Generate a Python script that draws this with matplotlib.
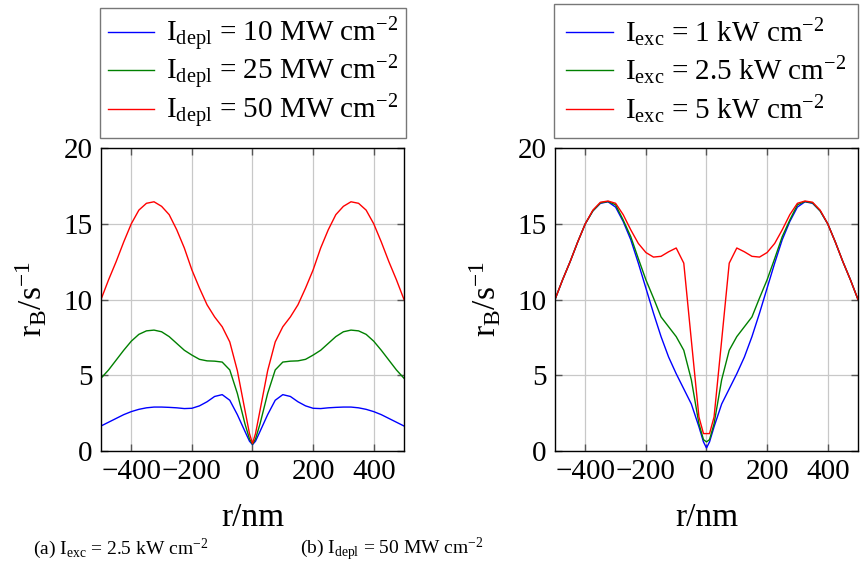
import matplotlib
matplotlib.use('Agg')
import matplotlib.pyplot as plt

plt.rcParams['font.family'] = ['Liberation Serif', 'DejaVu Serif']
plt.rcParams['mathtext.fontset'] = 'custom'
plt.rcParams['mathtext.rm'] = 'Liberation Serif'
plt.rcParams['mathtext.it'] = 'Liberation Serif:italic'

# radial coordinate (nm)
r = [-500, -475, -450, -425, -400, -375, -350, -325, -300, -275, -250, -225, -200, -175, -150, -125, -100, -75,
     -50, -25, -10, 0, 10, 25, 50, 75, 100, 125, 150, 175, 200, 225, 250, 275, 300, 325, 350, 375, 400, 425,
     450, 475, 500]

# (a) I_exc = 2.5 kW/cm^2, varying I_depl
a_10 = [1.65, 1.9, 2.15, 2.4, 2.6, 2.75, 2.85, 2.9, 2.9, 2.88, 2.85, 2.8, 2.82, 2.98, 3.25, 3.6, 3.72, 3.35,
        2.4, 1.3, 0.65, 0.42, 0.65, 1.3, 2.4, 3.35, 3.72, 3.6, 3.25, 2.98, 2.82, 2.8, 2.85, 2.88, 2.9, 2.9,
        2.85, 2.75, 2.6, 2.4, 2.15, 1.9, 1.65]
a_25 = [4.8, 5.35, 6.0, 6.65, 7.25, 7.7, 7.93, 7.98, 7.87, 7.55, 7.1, 6.65, 6.33, 6.05, 5.95, 5.93, 5.87, 5.35,
        3.8, 1.8, 0.8, 0.45, 0.8, 1.8, 3.8, 5.35, 5.87, 5.93, 5.95, 6.05, 6.33, 6.65, 7.1, 7.55, 7.87, 7.98,
        7.93, 7.7, 7.25, 6.65, 6.0, 5.35, 4.8]
a_50 = [10.0, 11.3, 12.5, 13.8, 15.0, 15.9, 16.35, 16.45, 16.15, 15.6, 14.6, 13.4, 11.95, 10.75, 9.65, 8.85,
        8.2, 7.2, 5.3, 2.7, 1.15, 0.5, 1.15, 2.7, 5.3, 7.2, 8.2, 8.85, 9.65, 10.75, 11.95, 13.4, 14.6, 15.6,
        16.15, 16.45, 16.35, 15.9, 15.0, 13.8, 12.5, 11.3, 10.0]

# (b) I_depl = 50 MW/cm^2, varying I_exc
b_1 = [10.0, 11.3, 12.5, 13.8, 15.0, 15.85, 16.35, 16.45, 16.1, 15.15, 13.95, 12.4, 10.75, 9.1, 7.55, 6.2,
       5.1, 4.1, 3.1, 1.6, 0.6, 0.2, 0.6, 1.6, 3.1, 4.1, 5.1, 6.2, 7.55, 9.1, 10.75, 12.4, 13.95, 15.15, 16.1,
       16.45, 16.35, 15.85, 15.0, 13.8, 12.5, 11.3, 10.0]
b_25 = [10.0, 11.3, 12.5, 13.8, 15.0, 15.85, 16.38, 16.47, 16.25, 15.25, 14.15, 12.7, 11.3, 10.1, 8.85, 8.2,
        7.55, 6.65, 4.7, 1.8, 0.75, 0.6, 0.75, 1.8, 4.7, 6.65, 7.55, 8.2, 8.85, 10.1, 11.3, 12.7, 14.15, 15.25,
        16.25, 16.47, 16.38, 15.85, 15.0, 13.8, 12.5, 11.3, 10.0]
b_5 = [10.0, 11.3, 12.5, 13.8, 15.0, 15.9, 16.42, 16.5, 16.35, 15.6, 14.6, 13.7, 13.1, 12.8, 12.85, 13.15,
       13.4, 12.4, 7.3, 2.25, 1.15, 1.15, 1.15, 2.25, 7.3, 12.4, 13.4, 13.15, 12.85, 12.8, 13.1, 13.7, 14.6,
       15.6, 16.35, 16.5, 16.42, 15.9, 15.0, 13.8, 12.5, 11.3, 10.0]

labels_a = [r'$\mathrm{I_{depl}}$ = 10 MW cm$^{-2}$', r'$\mathrm{I_{depl}}$ = 25 MW cm$^{-2}$',
            r'$\mathrm{I_{depl}}$ = 50 MW cm$^{-2}$']
labels_b = [r'$\mathrm{I_{exc}}$ = 1 kW cm$^{-2}$', r'$\mathrm{I_{exc}}$ = 2.5 kW cm$^{-2}$',
            r'$\mathrm{I_{exc}}$ = 5 kW cm$^{-2}$']
colors = ['blue', '#008000', 'red']

fig = plt.figure(figsize=(8.62, 5.8), dpi=100)
ax1 = fig.add_axes([101 / 862, 1 - 451 / 580, 303 / 862, 303 / 580])
ax2 = fig.add_axes([555 / 862, 1 - 451 / 580, 303 / 862, 303 / 580])

for ax, series, labels, cx, lsp, bpad in [(ax1, [a_10, a_25, a_50], labels_a, 253, 0.0, 0.25),
                                          (ax2, [b_1, b_25, b_5], labels_b, 706, 0.2, 0.42)]:
    for ys, lab, c in zip(series, labels, colors):
        ax.plot(r, ys, color=c, lw=1.0, label=lab)
    ax.set_xlim(-500, 500)
    ax.set_ylim(0, 20)
    ax.set_xticks([-400, -200, 0, 200, 400])
    ax.set_yticks([0, 5, 10, 15, 20])
    ax.set_xticklabels(['\u2212400', '\u2212200', '0', '200', '400'])
    ax.grid(True, color='#c8c8c8', lw=0.9)
    ax.set_axisbelow(True)
    ax.tick_params(direction='in', top=True, right=True, length=5, width=1, color='#555555',
                   labelsize=21, pad=6)
    for sp in ax.spines.values():
        sp.set_linewidth(1.0)
    ax.set_xlabel('r/nm', fontsize=24, labelpad=12)
    ax.set_ylabel(r'$\mathrm{r_B/s^{-1}}$', fontsize=24, labelpad=10)
    leg = fig.legend(handles=ax.get_lines(), loc='lower center', bbox_to_anchor=(cx / 862, 1 - 138 / 580),
                     fontsize=21, frameon=True, fancybox=False, edgecolor='#555555', borderaxespad=0,
                     handlelength=1.6, handletextpad=0.4, labelspacing=lsp, borderpad=bpad)
    leg.get_frame().set_linewidth(1.0)

fig.text(121 / 862, 1 - 549 / 580, r'(a) $\mathrm{I_{exc}}$ = 2.5 kW cm$^{-2}$', fontsize=14, ha='center', va='center')
fig.text(392 / 862, 1 - 549 / 580, r'(b) $\mathrm{I_{depl}}$ = 50 MW cm$^{-2}$', fontsize=14, ha='center', va='center')

fig.savefig('out.png', dpi=100)
